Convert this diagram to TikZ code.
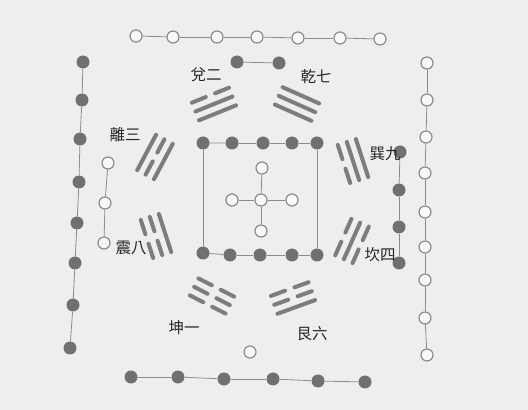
\documentclass[tikz,border=0pt]{standalone}
\usepackage{fontspec}
\newfontfamily\cjk{Noto Sans CJK TC}
\usepackage{tikz}
\definecolor{paper}{RGB}{238,238,238}
\definecolor{ink}{RGB}{112,112,112}
\definecolor{rim}{RGB}{140,140,140}
\definecolor{bar}{RGB}{125,125,125}
\tikzset{%
    yang/.style={circle,fill=ink,draw=none,minimum size=13pt,inner sep=0pt},
    yin/.style={circle,fill=white!60!paper,draw=rim,line width=1.2pt,minimum size=12pt,inner sep=0pt},
    link/.style={draw=rim,line width=0.8pt},
    yao/.style={draw=bar,line width=4pt,line cap=round},
    gualabel/.style={font=\cjk\fontsize{15.5}{15.5}\selectfont,text=black!85,inner sep=0pt}
}
% #1 centre, #2 rotation, #3 lines from inner to outer (1 whole, 0 broken)
\newcommand{\trigram}[3]{%
    \begin{scope}[shift={#1},rotate=#2]
        \foreach \line [count=\k] in {#3}{
            \pgfmathsetmacro{\ypos}{(\k-2)*9.5}
            \ifnum\line=1
                \draw[yao] (-20,\ypos) -- (20,\ypos);
            \else
                \draw[yao] (-20,\ypos) -- (-5,\ypos) (5,\ypos) -- (20,\ypos);
            \fi
        }
    \end{scope}}

\begin{document}
\begin{tikzpicture}[x=1pt,y=1pt]
    \fill[paper] (0,0) rectangle (528,410);
%-----------------------------------------------
    % top row, seven hollow
    \foreach \x/\y [count=\i] in {136/374,173/373,217/373,257/373,298/372,340/372,380/371}
        \node[yin] (top\i) at (\x,\y) {};
    \foreach \i [evaluate=\i as \j using int(\i+1)] in {1,...,6}
        \draw[link] (top\i) -- (top\j);
    % two dark
    \node[yang] (two1) at (237,348) {};
    \node[yang] (two2) at (279,347) {};
    \draw[link] (two1) -- (two2);
%-----------------------------------------------
    % left, eight dark
    \foreach \x/\y [count=\i] in {83/348,82/310,80/271,79/228,77/187,75/147,73/105,70/62}
        \node[yang] (left\i) at (\x,\y) {};
    \foreach \i [evaluate=\i as \j using int(\i+1)] in {1,...,7}
        \draw[link] (left\i) -- (left\j);
    % three hollow
    \foreach \x/\y [count=\i] in {108/247,105/207,104/167}
        \node[yin] (three\i) at (\x,\y) {};
    \draw[link] (three1) -- (three2) -- (three3);
%-----------------------------------------------
    % right, nine hollow
    \foreach \x/\y [count=\i] in {427/347,427/310,426/273,425/237,425/198,425/163,425/130,425/92,427/55}
        \node[yin] (right\i) at (\x,\y) {};
    \foreach \i [evaluate=\i as \j using int(\i+1)] in {1,...,8}
        \draw[link] (right\i) -- (right\j);
    % four dark
    \foreach \x/\y [count=\i] in {400/258,399/220,399/183,399/147}
        \node[yang] (four\i) at (\x,\y) {};
    \foreach \i [evaluate=\i as \j using int(\i+1)] in {1,...,3}
        \draw[link] (four\i) -- (four\j);
%-----------------------------------------------
    % bottom, six dark
    \foreach \x/\y [count=\i] in {131/33,178/33,224/31,273/31,318/29,365/28}
        \node[yang] (bottom\i) at (\x,\y) {};
    \foreach \i [evaluate=\i as \j using int(\i+1)] in {1,...,5}
        \draw[link] (bottom\i) -- (bottom\j);
    \node[yin] (one) at (250,58) {};
%-----------------------------------------------
    % centre square, ten dark
    \foreach \x/\y [count=\i] in {203/267,232/267,263/267,292/267,317/267}
        \node[yang] (sqtop\i) at (\x,\y) {};
    \foreach \x/\y [count=\i] in {203/157,230/155,260/155,292/155,317/155}
        \node[yang] (sqbot\i) at (\x,\y) {};
    \foreach \i [evaluate=\i as \j using int(\i+1)] in {1,...,4}
        \draw[link] (sqtop\i) -- (sqtop\j) (sqbot\i) -- (sqbot\j);
    \draw[link] (sqtop1) -- (sqbot1);
    \draw[link] (sqtop5) -- (sqbot5);
    % five hollow
    \node[yin] (mid) at (261,210) {};
    \node[yin] (midN) at (262,242) {};
    \node[yin] (midS) at (261,179) {};
    \node[yin] (midW) at (232,210) {};
    \node[yin] (midE) at (292,210) {};
    \foreach \p in {midN,midS,midW,midE}
        \draw[link] (mid) -- (\p);
%-----------------------------------------------
    \trigram{(214,306)}{22}{1,1,0}     % dui
    \trigram{(297,306)}{-24}{1,1,1}    % qian
    \trigram{(155,253)}{62}{1,0,1}     % li
    \trigram{(156,174)}{108}{1,0,0}    % zhen
    \trigram{(353,249)}{-72}{0,1,1}    % xun
    \trigram{(352,169)}{-114}{0,1,0}   % kan
    \trigram{(212,114)}{153}{0,0,0}    % kun
    \trigram{(293,112)}{200}{0,0,1}    % gen
%-----------------------------------------------
    \node[gualabel] (dui) at (206,335) {兌二};
    \node[gualabel] (qian) at (316,333) {乾七};
    \node[gualabel] (li) at (125,275) {離三};
    \node[gualabel] (zhen) at (131,162) {震八};
    \node[gualabel] (xun) at (385,256) {巽九};
    \node[gualabel] (kan) at (380,155) {坎四};
    \node[gualabel] (kun) at (184,82) {坤一};
    \node[gualabel] (gen) at (312,76) {艮六};
\end{tikzpicture}
\end{document}
